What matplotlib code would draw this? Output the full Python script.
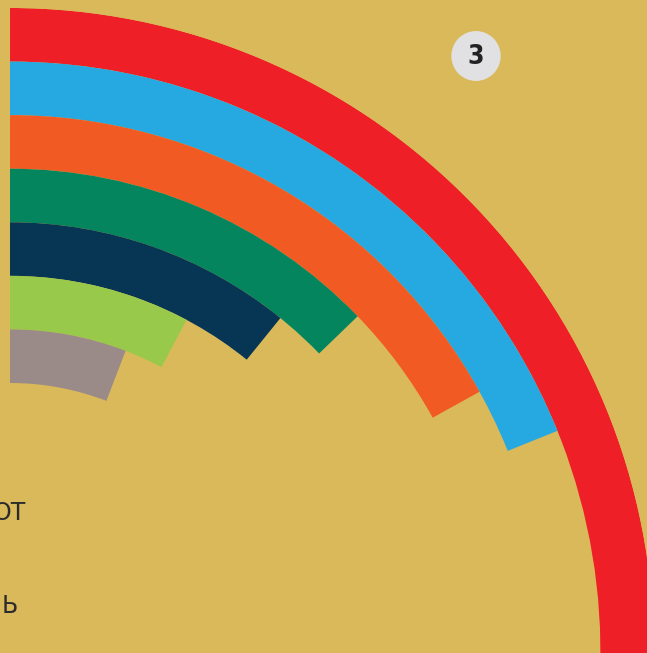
import numpy as np
import matplotlib
matplotlib.use('Agg')
import matplotlib.pyplot as plt

# Bögen von außen nach innen
colors = ['#ee1f27', '#25a9e0', '#f15a22', '#05855e', '#063654', '#99c94b', '#9b8b88']
sweep_deg = [92, 68, 61, 46, 39, 28, 21]
labels_left = ['ОТ', 'Ь']
badge = '3'

W, H = 647, 653
bg = '#dab95b'
fig = plt.figure(figsize=(W / 100, H / 100), dpi=100, facecolor=bg)

# Mittelpunkt und Radien in Pixel
cx, cy = 10, 652
r_out = 644
r_in = 269
ring = (r_out - r_in) / len(colors)

ax = fig.add_axes([(cx - r_out) / W, (H - cy - r_out) / H, 2 * r_out / W, 2 * r_out / H],
                  projection='polar')
ax.set_facecolor('none')
ax.set_theta_zero_location('N')
ax.set_theta_direction(-1)
ax.set_ylim(0, r_out)
ax.grid(False)
ax.set_xticks([])
ax.set_yticks([])
ax.spines['polar'].set_visible(False)

for i, (c, s) in enumerate(zip(colors, sweep_deg)):
    bottom = r_out - (i + 1) * ring
    th = np.deg2rad(s)
    ax.bar(th / 2, ring, width=th, bottom=bottom, color=c, edgecolor='none', align='center')

# Texte
fig.text(26 / W, 1 - 520 / H, labels_left[0], fontsize=17, color='#2b2b2b',
         ha='right', va='baseline', family='DejaVu Sans')
fig.text(18 / W, 1 - 613 / H, labels_left[1], fontsize=17, color='#2b2b2b',
         ha='right', va='baseline', family='DejaVu Sans')

# Nummer im Kreis
bx, by = 476, 56
circ = plt.Circle((bx / W, 1 - by / H), 24 / W, transform=fig.transFigure,
                  color='#e1e1e3', zorder=5)
fig.patches.append(circ)
fig.text(bx / W, 1 - (by + 1) / H, badge, fontsize=19, fontweight='bold',
         fontstretch='condensed', color='#222222', ha='center', va='center',
         family='DejaVu Sans', zorder=6)

fig.savefig('out.png', dpi=100, facecolor=bg)
